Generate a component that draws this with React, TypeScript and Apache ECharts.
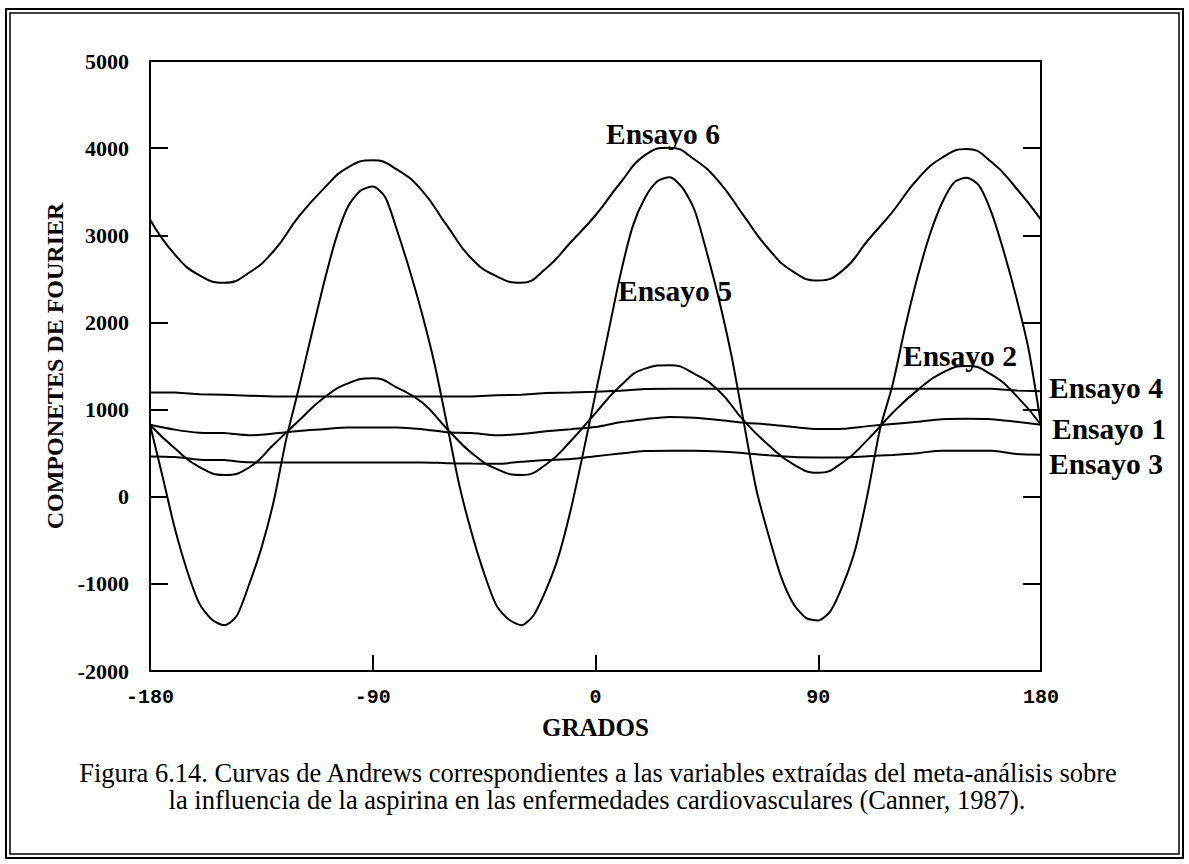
import React, { useEffect, useRef } from "react";
import * as echarts from "echarts";

// Grados (eje X)
const grados10 = [
  -180, -170, -160, -150, -140, -130, -120, -110, -100, -90, -80, -70, -60, -50, -40, -30, -20, -10,
  0, 10, 20, 30, 40, 50, 60, 70, 80, 90, 100, 110, 120, 130, 140, 150, 160, 170, 180,
];
const grados5 = [
  -180, -175, -170, -165, -160, -155, -150, -145, -140, -135, -130, -125, -120, -115, -110, -105,
  -100, -95, -90, -85, -80, -75, -70, -65, -60, -55, -50, -45, -40, -35, -30, -25, -20, -15, -10,
  -5, 0, 5, 10, 15, 20, 25, 30, 35, 40, 45, 50, 55, 60, 65, 70, 75, 80, 85, 90, 95, 100, 105, 110,
  115, 120, 125, 130, 135, 140, 145, 150, 155, 160, 165, 170, 175, 180,
];

// Valores
const ensayo6 = [
  3180, 2780, 2540, 2455, 2570, 2820, 3210, 3530, 3780, 3860, 3750, 3510, 3110, 2730, 2530, 2455,
  2620, 2920, 3230, 3600, 3920, 4005, 3870, 3610, 3220, 2840, 2580, 2480, 2600, 2940, 3270, 3640,
  3890, 3990, 3840, 3540, 3180,
];
const ensayo5 = [
  826, 240, -360, -850, -1230, -1410, -1475, -1370, -1010, -590, -50, 655, 1230, 1830, 2420, 2950,
  3330, 3510, 3560, 3440, 3040, 2590, 2090, 1520, 830, 130, -420, -880, -1250, -1410, -1475, -1360,
  -1070, -690, -150, 500, 1180, 1860, 2540, 3100, 3430, 3620, 3665, 3550, 3290, 2800, 2250, 1610,
  840, 80, -450, -920, -1230, -1390, -1420, -1310, -1010, -600, 40, 780, 1280, 1930, 2510, 3000,
  3370, 3610, 3660, 3570, 3260, 2810, 2290, 1690, 826,
];
const ensayo2 = [
  826, 555, 340, 250, 335, 600, 870, 1130, 1300, 1360, 1250, 1080, 780, 500, 320, 250, 370, 640,
  960, 1270, 1470, 1510, 1410, 1210, 870, 590, 370, 275, 395, 655, 960, 1220, 1420, 1500, 1400,
  1160, 826,
];
const ensayo4 = [
  1195, 1195, 1175, 1170, 1160, 1150, 1150, 1150, 1150, 1150, 1150, 1150, 1150, 1150, 1165, 1170,
  1190, 1195, 1205, 1215, 1235, 1240, 1240, 1240, 1240, 1240, 1240, 1240, 1240, 1240, 1240, 1240,
  1240, 1240, 1240, 1220, 1210,
];
const ensayo1 = [
  826, 770, 735, 730, 705, 725, 755, 775, 795, 795, 795, 775, 740, 730, 705, 720, 750, 775, 800,
  855, 890, 915, 905, 880, 850, 830, 800, 776, 780, 810, 835, 860, 890, 895, 890, 860, 826,
];
const ensayo3 = [
  462, 455, 425, 420, 395, 393, 393, 393, 393, 393, 393, 393, 385, 380, 378, 400, 420, 432, 465,
  495, 525, 528, 528, 520, 500, 475, 455, 451, 451, 465, 480, 500, 528, 528, 528, 490, 482,
];

const yTicks = [-2000, -1000, 0, 1000, 2000, 3000, 4000, 5000];
const xTicks = [-180, -90, 0, 90, 180];

const caption1 =
  "Figura 6.14. Curvas de Andrews correspondientes a las variables extraídas del meta-análisis sobre";
const caption2 =
  "la influencia de la aspirina en las enfermedades cardiovasculares (Canner, 1987).";

const SERIF = "'Liberation Serif', 'Times New Roman', serif";
const MONO = "'Liberation Mono', 'Courier New', monospace";

const pair = (xs: number[], ys: number[]) => xs.map((x, i) => [x, ys[i]]);

export default function App() {
  const ref = useRef<HTMLDivElement>(null);
  useEffect(() => {
    if (!ref.current) return;
    const chart = echarts.init(ref.current, undefined, { renderer: "svg" });
    const lineStyle = { color: "#000", width: 2 };
    const mkSeries = (name: string, xs: number[], ys: number[], smooth: number | boolean) => ({
      name,
      type: "line",
      data: pair(xs, ys),
      showSymbol: false,
      smooth,
      lineStyle,
      itemStyle: { color: "#000" },
      silent: true,
    });
    const curveLabel = (text: string, x: number, y: number) => ({
      type: "text",
      x,
      y,
      style: {
        text,
        fill: "#000",
        font: `bold 29.5px ${SERIF}`,
        textAlign: "left",
        textVerticalAlign: "middle",
      },
    });
    chart.setOption({
      animation: false,
      backgroundColor: "#fff",
      grid: { left: 150, right: 148, top: 61, bottom: 193, containLabel: false, outerBoundsMode: "none" },
      xAxis: [
        {
          type: "value",
          min: xTicks[0],
          max: xTicks[xTicks.length - 1],
          interval: 90,
          name: "GRADOS",
          nameLocation: "middle",
          nameGap: 44,
          nameTextStyle: { fontFamily: SERIF, fontWeight: "bold", fontSize: 25, color: "#000" },
          axisLine: { show: true, onZero: false, lineStyle: { color: "#000", width: 2 } },
          axisTick: { show: true, inside: true, length: 16, lineStyle: { color: "#000", width: 2 } },
          axisLabel: {
            fontFamily: MONO,
            fontWeight: "bold",
            fontSize: 20,
            color: "#000",
            margin: 16,
            formatter: (v: number) => String(v),
          },
          splitLine: { show: false },
        },
        {
          type: "value",
          position: "top",
          min: xTicks[0],
          max: xTicks[xTicks.length - 1],
          axisLine: { show: true, onZero: false, lineStyle: { color: "#000", width: 2 } },
          axisTick: { show: false },
          axisLabel: { show: false },
          splitLine: { show: false },
        },
      ],
      yAxis: [
        {
          type: "value",
          min: yTicks[0],
          max: yTicks[yTicks.length - 1],
          interval: 1000,
          name: "COMPONETES DE FOURIER",
          nameLocation: "middle",
          nameRotate: 90,
          nameGap: 70,
          nameTextStyle: { fontFamily: SERIF, fontWeight: "bold", fontSize: 24, color: "#000" },
          axisLine: { show: true, onZero: false, lineStyle: { color: "#000", width: 2 } },
          axisTick: { show: true, inside: true, length: 18, lineStyle: { color: "#000", width: 2 } },
          axisLabel: {
            fontFamily: SERIF,
            fontWeight: "bold",
            fontSize: 22,
            color: "#000",
            margin: 21,
            formatter: (v: number) => String(v),
          },
          splitLine: { show: false },
        },
        {
          type: "value",
          position: "right",
          min: yTicks[0],
          max: yTicks[yTicks.length - 1],
          interval: 1000,
          axisLine: { show: true, onZero: false, lineStyle: { color: "#000", width: 2 } },
          axisTick: { show: true, inside: true, length: 18, lineStyle: { color: "#000", width: 2 } },
          axisLabel: { show: false },
          splitLine: { show: false },
        },
      ],
      series: [
        mkSeries("Ensayo 6", grados10, ensayo6, 0.5),
        mkSeries("Ensayo 5", grados5, ensayo5, 0.25),
        mkSeries("Ensayo 2", grados10, ensayo2, 0.5),
        mkSeries("Ensayo 4", grados10, ensayo4, false),
        mkSeries("Ensayo 1", grados10, ensayo1, 0.3),
        mkSeries("Ensayo 3", grados10, ensayo3, 0.3),
      ],
      graphic: [
        {
          type: "rect",
          shape: { x: 6, y: 9, width: 1177, height: 849 },
          style: { fill: "none", stroke: "#000", lineWidth: 2 },
          silent: true,
        },
        {
          type: "rect",
          shape: { x: 10, y: 13, width: 1169, height: 841 },
          style: { fill: "none", stroke: "#000", lineWidth: 1.5 },
          silent: true,
        },
        curveLabel("Ensayo 6", 606, 134),
        curveLabel("Ensayo 5", 618, 291),
        curveLabel("Ensayo 2", 903, 356),
        curveLabel("Ensayo 4", 1049, 388),
        curveLabel("Ensayo 1", 1052, 429),
        curveLabel("Ensayo 3", 1049, 464),
        {
          type: "text",
          x: 598,
          y: 773,
          style: { text: caption1, fill: "#000", font: `26.5px ${SERIF}`, textAlign: "center", textVerticalAlign: "middle" },
        },
        {
          type: "text",
          x: 597,
          y: 800,
          style: { text: caption2, fill: "#000", font: `26.5px ${SERIF}`, textAlign: "center", textVerticalAlign: "middle" },
        },
      ],
    });
    return () => chart.dispose();
  }, []);
  return (
    <div
      ref={ref}
      style={{ position: "absolute", left: 0, top: 0, width: 1189, height: 864, background: "#fff" }}
    />
  );
}
